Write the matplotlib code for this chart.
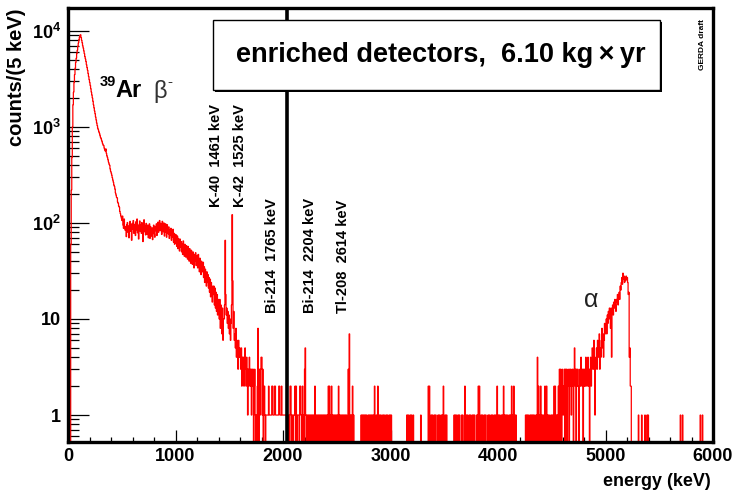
import numpy as np
import matplotlib
matplotlib.use('Agg')
import matplotlib.pyplot as plt
from matplotlib.ticker import FixedLocator, MultipleLocator, LogLocator, NullFormatter
from matplotlib.patches import Rectangle

plt.rcParams['font.family'] = ['Liberation Sans', 'DejaVu Sans']
plt.rcParams['mathtext.fontset'] = 'custom'
plt.rcParams['mathtext.rm'] = 'Liberation Sans'
plt.rcParams['mathtext.bf'] = 'Liberation Sans:bold'
plt.rcParams['mathtext.it'] = 'Liberation Sans:italic'

# ---- data (counts per 5 keV bin) ----
bin_width = 5
n_bins = 1200

# continuum 0 - 1745 keV, one value per bin
low_counts = [
    0, 0, 0, 0, 0,
    60, 220, 480, 1000, 1700, 2300, 2900, 3500, 4100, 4700,
    5200, 5800, 6300, 6900, 7500, 8100, 8600, 9000, 9100,
    8500, 8000, 7500, 7000, 6600, 6200, 5800, 5400, 5100, 4800,
    4450, 4150, 3900, 3600, 3350, 3100, 2900, 2700, 2500, 2300,
    2150, 2000, 1850, 1700, 1580, 1470, 1370, 1270, 1180, 1100,
    1030, 970, 930, 890, 860, 820, 780, 760, 730, 700,
    670, 645, 640, 600, 575, 560, 590, 530, 500, 480,
    455, 430, 410, 400, 365, 345, 330, 315, 295, 280,
    265, 248, 240, 225, 205, 195, 185, 182, 165, 160,
    150, 146, 132, 125, 118, 112, 106, 118, 95, 88,
    110, 92,
    84, 92, 72, 96, 101, 80, 93, 70, 89, 104,
    82, 95, 66, 99, 86, 106, 78, 90, 97, 74,
    103, 85, 110, 79, 94, 68, 97, 105, 82, 95,
    78, 101, 88, 64, 96, 108, 81, 93, 75, 99,
    90, 76, 95, 70, 88, 98, 69, 92, 80, 73,
    89, 67, 86, 95, 77, 71, 92, 83, 98, 74,
    90, 102, 80, 95, 106, 83, 99, 87, 76, 104,
    94, 81, 100, 73, 92, 98, 80, 71, 96, 84,
    77, 91, 69, 85,
    74, 88, 66, 83, 71, 86, 63, 78, 60, 76,
    62, 75, 57, 73, 54, 69, 61, 51, 68, 56,
    64, 50, 61, 47, 65, 52, 45, 60, 53, 44,
    58, 48, 42, 57, 46, 40, 54, 47, 38, 52,
    45, 37, 50, 43, 34, 47, 40, 49, 36, 44,
    46, 34, 47, 40, 31, 43, 37, 29, 40, 33,
    31, 39, 27, 35, 24, 33, 26, 22, 31, 24,
    29, 21, 27, 19, 26, 17, 24, 20, 15, 22,
    18, 22, 14, 21, 13, 19, 12, 18, 11, 16,
    15, 10, 16, 8, 14, 10, 7, 13, 6, 10,
    10, 14, 66, 18, 11, 13, 9, 12, 8, 11,
    7, 10, 6, 9, 14, 122, 25, 8, 12, 6,
    7, 5, 8, 4, 6, 5, 3, 6, 4, 5,
    4, 3, 5, 2, 4, 3, 4, 2, 3, 5,
    3, 2, 4, 3, 1, 3, 2, 4, 3, 2,
    3, 1, 3, 2, 3, 0, 2, 3, 1, 0,
]

# single-count bins above 1750 keV (bin start energy)
ones_energy = [
    1750, 1770, 1785, 1805, 1820, 1830, 1840, 1845, 1850, 1855, 1860, 1870,
    1875, 1880, 1885, 1890, 1905, 1910, 1915, 1930, 1935, 1940, 1945, 1950,
    1955, 1970, 1975, 1980, 1990, 1995, 2000, 2005, 2010, 2015, 2020, 2025,
    2030, 2035,
    2045, 2050, 2060, 2080, 2085, 2095, 2100, 2105, 2125, 2135, 2140, 2145,
    2165, 2170, 2190, 2210, 2220, 2225, 2235, 2245, 2255, 2265, 2275, 2285,
    2305, 2315, 2320, 2330, 2340, 2345, 2355, 2365, 2370, 2380, 2390, 2395,
    2405, 2410, 2440, 2460, 2470, 2475, 2485, 2490, 2500, 2505, 2525, 2530,
    2540, 2545, 2555, 2560, 2570, 2575, 2585, 2590, 2620, 2630, 2640, 2655,
    2725, 2735, 2745, 2755, 2760, 2770, 2775, 2790, 2800, 2810, 2815, 2825,
    2830, 2840, 2865, 2870, 2890, 2895, 2905, 2910, 2925, 2935, 2940, 2955,
    2965, 2970, 2985, 2995, 3005,
    3150, 3160, 3165, 3180, 3190, 3195, 3210, 3280,
    3375, 3385, 3390, 3405, 3415, 3420, 3440, 3450, 3455, 3470, 3480, 3505,
    3515, 3520,
    3590, 3600, 3610, 3625, 3635, 3640, 3660, 3670, 3700, 3710, 3715, 3730,
    3740, 3745, 3760, 3770, 3780, 3800, 3805,
    3840, 3850, 3855, 3870, 3880, 3885, 3905, 3915, 3920, 3935, 3945, 3950,
    3965, 3975, 4000, 4010, 4015, 4030, 4040, 4060, 4070, 4080, 4085, 4100,
    4110, 4120, 4135, 4155, 4165,
    4255, 4265, 4275, 4280, 4295, 4305, 4310, 4320, 4330, 4335, 4350, 4360,
    4385, 4405, 4415, 4420, 4445, 4460, 4470, 4475, 4490, 4500, 4505, 4515,
    4540, 4550,
    5305, 5335, 5365, 5385, 5395, 5695, 5715, 5880, 5900,
]

# multi-count bins above 1750 keV
multi_energy = [
    1760, 1765, 1780, 1790, 1795, 1800, 1810, 1825, 1865, 1895, 1900, 1920,
    1925, 1960, 1965, 1985, 2065, 2070, 2110, 2120, 2155, 2160, 2180, 2200,
    2205, 2295, 2420, 2430, 2450, 2515, 2605, 2615, 2645, 2850, 2880, 3350,
    3360, 3490, 3690, 3815, 3825, 3990, 4050, 4125, 4145, 4365, 4375, 4395,
    4435, 4450, 4520, 4530, 4560,
]
multi_counts = [
    2, 8, 3, 3, 4, 4, 3, 2, 2, 2, 2, 2,
    2, 2, 2, 2, 2, 2, 2, 2, 2, 2, 2, 3,
    5, 2, 2, 2, 2, 2, 3, 7, 2, 2, 2, 2,
    2, 2, 2, 2, 2, 2, 2, 2, 2, 4, 2, 2,
    2, 2, 2, 2, 2,
]

# alpha region, bins from 4570 to 5235 keV
alpha_start = 4570
alpha_counts = [
    3, 0, 3, 2, 0, 3, 2, 1, 2, 3,
    0, 3, 2, 3, 0, 2, 3, 2, 0, 3,
    2, 3, 1, 2, 3, 2, 0, 3, 5, 2,
    3, 0, 3, 2, 3, 2, 0, 2, 3, 2,
    4, 3, 2, 3, 0, 3, 2, 3, 2, 4,
    3, 2, 3, 4, 2, 3, 0, 3, 4, 2,
    3, 5, 4, 3, 6, 4, 1, 3, 4, 5,
    3, 6, 4, 5, 7, 3, 5, 4, 6, 8,
    5, 7, 4, 6, 9, 7, 8, 10, 7, 11,
    9, 12, 10, 13, 11, 8, 13, 4, 12, 14,
    11, 15, 13, 16, 14, 12, 16, 15, 18, 14,
    17, 19, 16, 22, 20, 24, 27, 23, 30, 26,
    28, 24, 27, 25, 28, 26, 27, 24, 18, 19,
    4, 5, 2, 2,
]

qbb = 2039

line_labels = ['K-40  1461 keV', 'K-42  1525 keV', 'Bi-214  1765 keV',
               'Bi-214  2204 keV', 'Tl-208  2614 keV']

# ---- assemble histogram ----
edges = np.arange(n_bins + 1) * bin_width
counts = np.zeros(n_bins)
counts[:len(low_counts)] = low_counts
counts[(np.array(ones_energy) // bin_width).astype(int)] = 1
counts[(np.array(multi_energy) // bin_width).astype(int)] = multi_counts
a0 = alpha_start // bin_width
counts[a0:a0 + len(alpha_counts)] = alpha_counts
plot_vals = np.where(counts > 0, counts, 1e-3)

W, H = 737, 490
fig = plt.figure(figsize=(W / 100, H / 100), dpi=100)
ax = fig.add_axes([68 / W, 1 - 442 / H, 645 / W, 434 / H])


def px(x, y):
    return x / W, 1 - y / H


ax.stairs(plot_vals, edges, color='#ff0000', lw=0.9, baseline=None, zorder=2)
ax.axvline(qbb, color='black', lw=2.6, zorder=3)

ax.set_yscale('log')
ax.set_xlim(0, 6000)
ax.set_ylim(0.524, 17300)

ax.xaxis.set_major_locator(MultipleLocator(1000))
ax.xaxis.set_minor_locator(MultipleLocator(200))
ax.yaxis.set_major_locator(FixedLocator([1, 10, 100, 1000, 10000]))
ax.yaxis.set_minor_locator(LogLocator(base=10, subs=np.arange(2, 10)))
ax.yaxis.set_minor_formatter(NullFormatter())
ax.set_yticklabels(['1', '10', r'$\mathbf{10^{2}}$', r'$\mathbf{10^{3}}$', r'$\mathbf{10^{4}}$'],
                   fontsize=13, fontweight='bold')
ax.set_xticks(np.arange(0, 6001, 1000))
ax.set_xticklabels([str(v) for v in range(0, 6001, 1000)], fontsize=13, fontweight='bold')

ax.tick_params(axis='x', which='major', direction='in', length=8.6, width=0.9, pad=4)
ax.tick_params(axis='x', which='minor', direction='in', length=3.8, width=0.9)
ax.tick_params(axis='y', which='major', direction='in', length=15, width=0.9, pad=5)
ax.tick_params(axis='y', which='minor', direction='in', length=8, width=0.9)
for s in ax.spines.values():
    s.set_linewidth(2.4)

# axis titles
fig.text(*px(17, 8), 'counts/(5 keV)', rotation=90, ha='center', va='top',
         fontsize=14.5, fontweight='bold')
fig.text(*px(711, 481), 'energy (keV)', ha='right', va='center',
         fontsize=13, fontweight='bold')

# title box with shadow
fig.add_artist(Rectangle(px(215, 92), 447 / W, 70 / H, transform=fig.transFigure,
                         facecolor='black', edgecolor='black', lw=0, zorder=5))
fig.add_artist(Rectangle(px(213, 90), 447 / W, 70 / H, transform=fig.transFigure,
                         facecolor='white', edgecolor='black', lw=1.0, zorder=6))
fig.text(*px(441, 55), 'enriched detectors,  6.10 kg\u2009\u00d7\u2009yr', ha='center',
         va='center', fontsize=19.5, fontweight='bold', zorder=7)
fig.text(*px(703, 45), 'GERDA draft', rotation=90, ha='center', va='center',
         fontsize=6, fontweight='bold')

# annotations
fig.text(*px(100, 86), '39', ha='left', va='baseline', fontsize=10.5, fontweight='bold')
fig.text(*px(115, 97), 'Ar', ha='left', va='baseline', fontsize=17, fontweight='bold')
fig.text(*px(153, 98), '\u03b2', ha='left', va='baseline', fontsize=17, color='#333333')
fig.text(*px(167, 86), '-', ha='left', va='baseline', fontsize=11, color='#333333')
fig.text(*px(591, 300), '\u03b1', ha='center', va='center', fontsize=18, color='#222222')

label_pos = [(216, 207), (240, 207), (272, 313), (310, 313), (343, 313)]
for (lx, ly), lab in zip(label_pos, line_labels):
    fig.text(*px(lx, ly), lab, rotation=90, ha='center', va='bottom',
             fontsize=10.5, fontweight='bold')

fig.savefig('out.png', dpi=100)
